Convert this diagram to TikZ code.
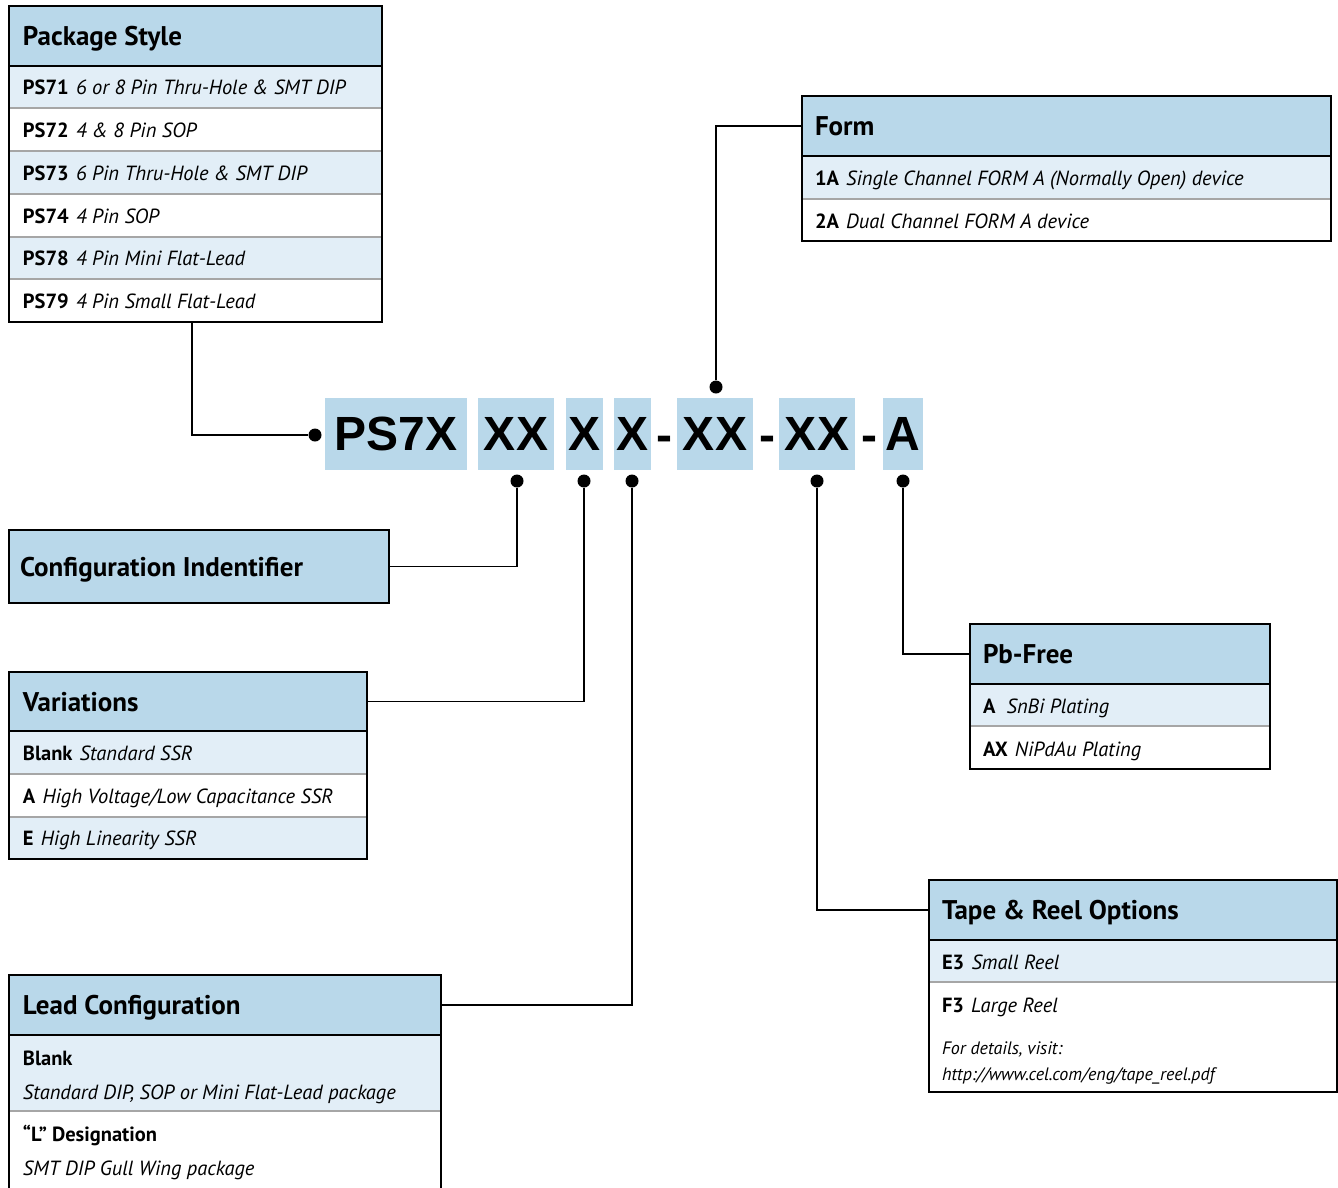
\documentclass[tikz,border=0pt]{standalone}
\usepackage{fontspec}
\setmainfont{PT Sans}
\newfontfamily\codefont{Liberation Sans}
\definecolor{hdrc}{RGB}{185,216,234}
\definecolor{rowc}{RGB}{226,238,247}
\definecolor{sepc}{RGB}{166,166,166}
\newcommand\hdrfont{\fontsize{27}{32}\selectfont\bfseries}
\newcommand\rowfont{\fontsize{20.5}{24}\selectfont}
\newcommand\smfont{\fontsize{18}{21}\selectfont}
\newcommand\rw[2]{{\bfseries #1}\hspace{0.35em}{\itshape #2}}
\tikzset{
  frame/.style={draw=black, line width=2.5pt, anchor=north west, inner sep=0pt, outer sep=0pt},
  hdr/.style={frame, fill=hdrc},
  lightrow/.style={fill=rowc},
  sepline/.style={draw=sepc, line width=1.2pt},
  lbl/.style={anchor=base west, inner sep=0pt, outer sep=0pt},
  codebox/.style={fill=hdrc, inner sep=0pt, outer sep=0pt, minimum height=72pt, text depth=0pt, font=\codefont\bfseries\fontsize{48}{50}\selectfont},
  codedash/.style={anchor=base, inner sep=0pt, font=\codefont\bfseries\fontsize{48}{50}\selectfont},
  dotn/.style={circle, fill=black, inner sep=0pt, minimum size=13pt},
  conn/.style={draw=black, line width=1.3pt},
}
\begin{document}
\begin{tikzpicture}[x=1pt, y=-1pt]
\useasboundingbox (0,0) rectangle (1338,1187);

% ---------- Package Style ----------
\fill[lightrow] (9,66) rectangle (382,108);
\fill[lightrow] (9,151) rectangle (382,194);
\fill[lightrow] (9,237) rectangle (382,279);
\foreach \yy in {108,151,194,237,279} \draw[sepline] (10,\yy) -- (381,\yy);
\node[frame, minimum width=373pt, minimum height=316pt] (ps) at (9,6) {};
\node[hdr, minimum width=373pt, minimum height=60pt] (psh) at (9,6) {};
\node[lbl] (pst) at (23,45.5) {\hdrfont Package Style};
\node[lbl] (ps1) at (23,94.5) {\rowfont\rw{PS71}{6 or 8 Pin Thru-Hole \& SMT DIP}};
\node[lbl] (ps2) at (23,137) {\rowfont\rw{PS72}{4 \& 8 Pin SOP}};
\node[lbl] (ps3) at (23,180) {\rowfont\rw{PS73}{6 Pin Thru-Hole \& SMT DIP}};
\node[lbl] (ps4) at (23,223) {\rowfont\rw{PS74}{4 Pin SOP}};
\node[lbl] (ps5) at (23,265.5) {\rowfont\rw{PS78}{4 Pin Mini Flat-Lead}};
\node[lbl] (ps6) at (23,308) {\rowfont\rw{PS79}{4 Pin Small Flat-Lead}};

% ---------- Form ----------
\fill[lightrow] (802,156) rectangle (1331,199);
\draw[sepline] (803,199) -- (1330,199);
\node[frame, minimum width=529pt, minimum height=145pt] (fm) at (802,96) {};
\node[hdr, minimum width=529pt, minimum height=60pt] (fh) at (802,96) {};
\node[lbl] (fmt) at (815,135.5) {\hdrfont Form};
\node[lbl] (fm1) at (815,185) {\rowfont\rw{1A}{Single Channel FORM A (Normally Open) device}};
\node[lbl] (fm2) at (815,228) {\rowfont\rw{2A}{Dual Channel FORM A device}};

% ---------- Configuration Indentifier ----------
\node[hdr, minimum width=380pt, minimum height=73pt] (ci) at (9,530) {};
\node[lbl] (cit) at (20,576) {\hdrfont Configuration Indentifier};

% ---------- Variations ----------
\fill[lightrow] (9,731) rectangle (367,774);
\fill[lightrow] (9,817) rectangle (367,859);
\foreach \yy in {774,817} \draw[sepline] (10,\yy) -- (366,\yy);
\node[frame, minimum width=358pt, minimum height=187pt] (va) at (9,672) {};
\node[hdr, minimum width=358pt, minimum height=59pt] (vh) at (9,672) {};
\node[lbl] (vat) at (23,711.5) {\hdrfont Variations};
\node[lbl] (va1) at (23,760) {\rowfont\rw{Blank}{Standard SSR}};
\node[lbl] (va2) at (23,803) {\rowfont\rw{A}{High Voltage/Low Capacitance SSR}};
\node[lbl] (va3) at (23,845.5) {\rowfont\rw{E}{High Linearity SSR}};

% ---------- Lead Configuration ----------
\fill[lightrow] (9,1035) rectangle (441,1111);
\draw[sepline] (10,1111) -- (440,1111);
\coordinate (lcbl) at (9,1195);
\coordinate (lcbr) at (441,1195);
\draw[line width=2.5pt] (lcbl) -- (9,975) -- (441,975) -- (lcbr);
\node[hdr, minimum width=432pt, minimum height=60pt] (lh) at (9,975) {};
\node[lbl] (lct) at (23,1014.5) {\hdrfont Lead Configuration};
\node[lbl] (lc1) at (23,1065) {\rowfont\bfseries Blank};
\node[lbl] (lc2) at (23,1099) {\rowfont\itshape Standard DIP, SOP or Mini Flat-Lead package};
\node[lbl] (lc3) at (23,1141) {\rowfont\bfseries “L” Designation};
\node[lbl] (lc4) at (23,1175) {\rowfont\itshape SMT DIP Gull Wing package};

% ---------- Pb-Free ----------
\fill[lightrow] (970,684) rectangle (1270,726);
\draw[sepline] (971,726) -- (1269,726);
\node[frame, minimum width=300pt, minimum height=145pt] (pb) at (970,624) {};
\node[hdr, minimum width=300pt, minimum height=60pt] (pbh) at (970,624) {};
\node[lbl] (pbt) at (983,663.5) {\hdrfont Pb-Free};
\node[lbl] (pb1) at (983,713) {\rowfont\rw{A}{\hspace{0.2em}SnBi Plating}};
\node[lbl] (pb2) at (983,756) {\rowfont\rw{AX}{NiPdAu Plating}};

% ---------- Tape & Reel ----------
\fill[lightrow] (929,940) rectangle (1337,982);
\draw[sepline] (930,982) -- (1336,982);
\node[frame, minimum width=408pt, minimum height=212pt] (tr) at (929,880) {};
\node[hdr, minimum width=408pt, minimum height=60pt] (th) at (929,880) {};
\node[lbl] (trt) at (942,919.5) {\hdrfont Tape \& Reel Options};
\node[lbl] (tr1) at (942,969) {\rowfont\rw{E3}{Small Reel}};
\node[lbl] (tr2) at (942,1012) {\rowfont\rw{F3}{Large Reel}};
\node[lbl] (tr3) at (942,1054) {\smfont\itshape For details, visit:};
\node[lbl] (tr4) at (942,1080) {\smfont\itshape http://www.cel.com/eng/tape\_reel.pdf};

% ---------- Part number code ----------
\node[codebox, minimum width=142pt] (c1) at (396,434) {PS7X};
\node[codebox, minimum width=76pt] (c2) at (516,434) {XX};
\node[codebox, minimum width=37pt] (c3) at (584.5,434) {X};
\node[codebox, minimum width=37pt] (c4) at (632.5,434) {X};
\node[codedash] (h1) at (664.5,451) {-};
\node[codebox, minimum width=76pt] (c5) at (715,434) {XX};
\node[codedash] (h2) at (767,451) {-};
\node[codebox, minimum width=76pt] (c6) at (817,434) {XX};
\node[codedash] (h3) at (869,451) {-};
\node[codebox, minimum width=40pt] (c7) at (903,434) {A};

% ---------- Dots ----------
\node[dotn] (dps) at (315,435) {};
\node[dotn] (d1) at (517,481) {};
\node[dotn] (d2) at (584,481) {};
\node[dotn] (d3) at (632,481) {};
\node[dotn] (dfm) at (716,387) {};
\node[dotn] (d5) at (817,481) {};
\node[dotn] (d6) at (903,481) {};

% ---------- Connectors ----------
\draw[conn] ([xshift=-3.5pt]ps.south) |- (dps);
\draw[conn] (d1) |- (ci.east);
\draw[conn] (d2) |- (vh.east);
\draw[conn] (d3) |- (lh.east);
\draw[conn] (dfm) |- (fh.west);
\draw[conn] (d5) |- (th.west);
\draw[conn] (d6) |- (pbh.west);
\end{tikzpicture}
\end{document}
